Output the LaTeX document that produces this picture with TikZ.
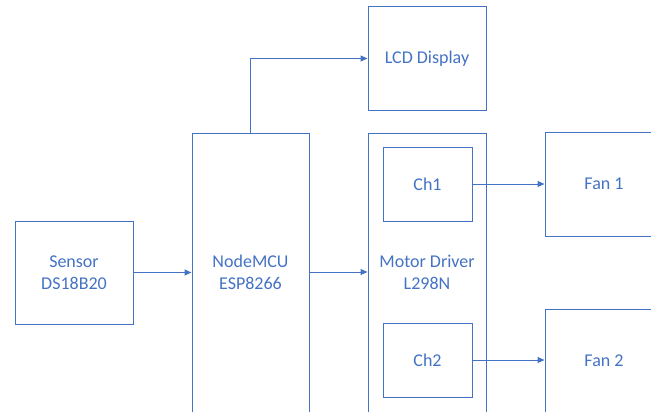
\documentclass[tikz,border=0pt]{standalone}
\usepackage{fontspec}
\setmainfont{Carlito}
\usetikzlibrary{arrows.meta}
\definecolor{obl}{HTML}{4472C4}
\tikzset{
  blk/.style={draw=obl, line width=1pt, rectangle, inner sep=0pt, align=center,
    text=obl, font=\fontsize{18}{22}\selectfont},
  txt/.style={text=obl, align=center, inner sep=0pt, font=\fontsize{18}{22}\selectfont},
  conn/.style={draw=obl, line width=1pt, -{Triangle[length=7pt,width=6pt]}}
}
\begin{document}
\begin{tikzpicture}[x=1pt,y=-1pt]
\useasboundingbox (0,0) rectangle (651,412);
\clip (0,0) rectangle (651,412);
\node[blk, minimum width=118, minimum height=103] (sensor) at (74,272.5) {Sensor\\DS18B20};
\node[blk, minimum width=117, minimum height=300, anchor=north] (mcu) at (250.5,133) {};
\node[txt] (mcutxt) at (250.5,272) {NodeMCU\\ESP8266};
\node[blk, minimum width=118, minimum height=103] (lcd) at (427,58.5) {LCD Display};
\node[blk, minimum width=118, minimum height=300, anchor=north] (drv) at (427,133) {};
\node[txt] (drvtxt) at (427,272) {Motor Driver\\L298N};
\node[blk, minimum width=89, minimum height=74] (ch1) at (427.5,184) {Ch1};
\node[blk, minimum width=89, minimum height=74] (ch2) at (427.5,360) {Ch2};
\node[blk, minimum width=118, minimum height=104] (fan1) at (604,184) {Fan 1};
\node[blk, minimum width=118, minimum height=104] (fan2) at (604,361) {Fan 2};
\draw[conn] (sensor.east) -- (mcu.west |- sensor.east);
\draw[conn] (mcu.east |- mcutxt) -- (drv.west |- mcutxt);
\draw[conn] (mcu.north) |- (lcd.west);
\draw[conn] (ch1.east) -- (fan1.west);
\draw[conn] (ch2.east) -- (fan2.west |- ch2.east);
\end{tikzpicture}
\end{document}
